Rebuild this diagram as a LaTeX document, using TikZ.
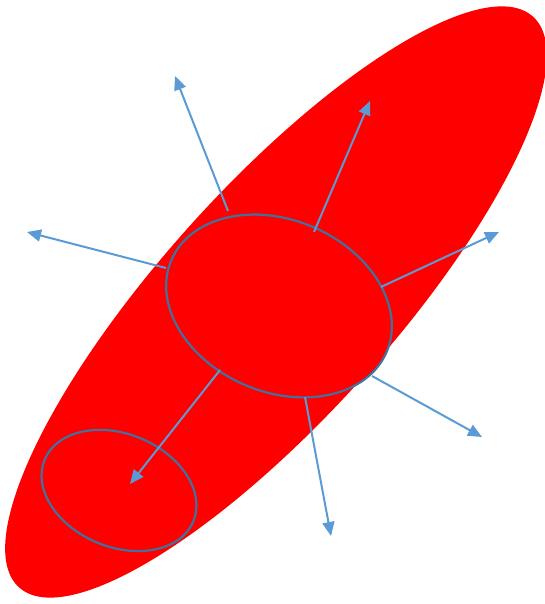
\documentclass[tikz,border=0pt]{standalone}
\usetikzlibrary{arrows.meta,shapes.geometric}
\definecolor{arrowblue}{HTML}{5B9BD5}
\definecolor{rimblue}{HTML}{41719C}
\definecolor{bigred}{HTML}{FF0000}
\tikzset{
  ray/.style={draw=arrowblue,line width=2pt,-{Triangle[length=14pt,width=12pt]}},
  rim/.style={ellipse,draw=rimblue,line width=2.2pt,fill=bigred,inner sep=0pt}
}
\begin{document}
\begin{tikzpicture}[x=1pt,y=1pt]
\useasboundingbox (0,0) rectangle (544,604);
% large red ellipse
\fill[bigred] (276,302) ellipse [x radius=384, y radius=115, rotate=48];
% inner ellipses
\node[rim,minimum width=234pt,minimum height=172pt,rotate=-23] (mid) at (279,298) {};
\node[rim,minimum width=161pt,minimum height=113pt,rotate=-22.5] (small) at (119,113.5) {};
% arrow ends
\coordinate (s1) at (228,393); \coordinate (t1) at (175,528);
\coordinate (s2) at (314,372); \coordinate (t2) at (370,503);
\coordinate (s3) at (166,336); \coordinate (t3) at (27,372);
\coordinate (s4) at (381,317); \coordinate (t4) at (499,372);
\coordinate (s5) at (372,228); \coordinate (t5) at (482,167);
\coordinate (s6) at (305,207); \coordinate (t6) at (331,68);
\coordinate (s7) at (220,234); \coordinate (t7) at (130,120);
\draw[ray] (s1) -- (t1);
\draw[ray] (s2) -- (t2);
\draw[ray] (s3) -- (t3);
\draw[ray] (s4) -- (t4);
\draw[ray] (s5) -- (t5);
\draw[ray] (s6) -- (t6);
\draw[ray] (s7) -- (t7);
\end{tikzpicture}
\end{document}
